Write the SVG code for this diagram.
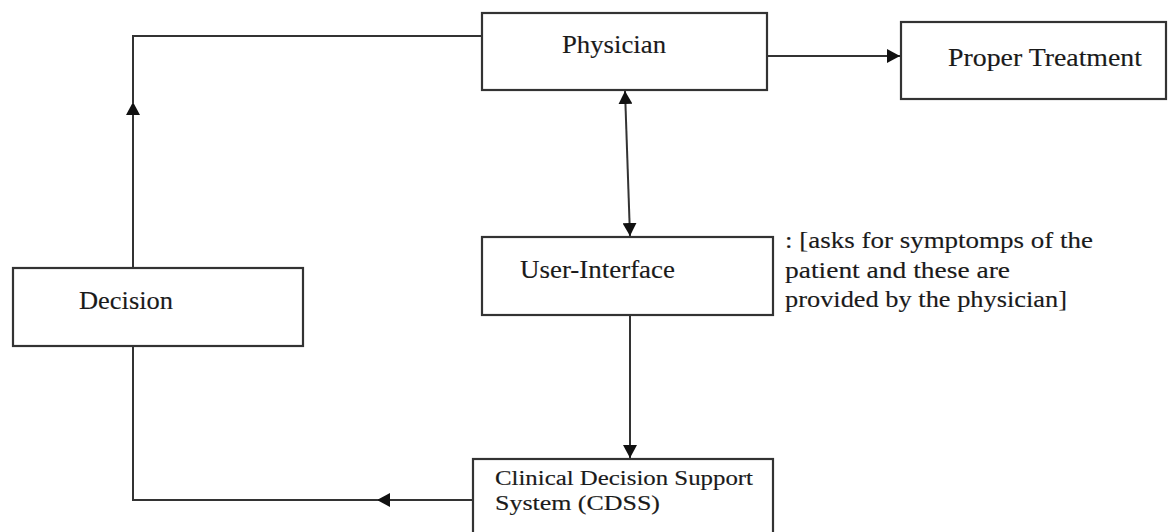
<svg xmlns="http://www.w3.org/2000/svg" width="1168" height="532" viewBox="0 0 1168 532">
<defs>
<style>
.box{fill:#fff;stroke:#333;stroke-width:2.2}
.ln{fill:none;stroke:#333;stroke-width:2}
text{font-family:'Liberation Serif','Times New Roman',Times,serif;fill:#1a1a1a;stroke:#1a1a1a;stroke-width:0.15}
</style>
<marker id="ah" markerUnits="userSpaceOnUse" markerWidth="14" markerHeight="14" refX="13" refY="7" orient="auto-start-reverse" viewBox="0 0 14 14">
<path d="M0,0 L13,7 L0,14 z" fill="#111"/>
</marker>
</defs>
<rect width="1168" height="532" fill="#fff"/>
<g id="connectors">
<path class="ln" d="M768,56 H900" marker-end="url(#ah)"/>
<path class="ln" d="M625,91 L630,236" marker-start="url(#ah)" marker-end="url(#ah)"/>
<path class="ln" d="M630,316 V458" marker-end="url(#ah)"/>
<path class="ln" d="M472,500 H377" marker-end="url(#ah)"/>
<path class="ln" d="M378,500 H133 V347"/>
<path class="ln" d="M133,267 V102" marker-end="url(#ah)"/>
<path class="ln" d="M133,104 V36 H481"/>
</g>
<g id="physician">
<rect class="box" x="482" y="13" width="285" height="77"/>
<text x="562" y="53" font-size="25" textLength="104" lengthAdjust="spacingAndGlyphs">Physician</text>
</g>
<g id="proper-treatment">
<rect class="box" x="901" y="22" width="265" height="77"/>
<text x="948" y="66" font-size="25" textLength="194" lengthAdjust="spacingAndGlyphs">Proper Treatment</text>
</g>
<g id="user-interface">
<rect class="box" x="482" y="237" width="291" height="78"/>
<text x="520" y="278" font-size="25" textLength="155" lengthAdjust="spacingAndGlyphs">User-Interface</text>
</g>
<g id="annotation">
<text x="785" y="248" font-size="24" textLength="308" lengthAdjust="spacingAndGlyphs">: [asks for symptomps of the</text>
<text x="785" y="278" font-size="24" textLength="225" lengthAdjust="spacingAndGlyphs">patient and these are</text>
<text x="785" y="307" font-size="24" textLength="282" lengthAdjust="spacingAndGlyphs">provided by the physician]</text>
</g>
<g id="decision">
<rect class="box" x="13" y="268" width="290" height="78"/>
<text x="79" y="309" font-size="25" textLength="94" lengthAdjust="spacingAndGlyphs">Decision</text>
</g>
<g id="cdss">
<rect class="box" x="473" y="459" width="300" height="80"/>
<text x="495" y="485" font-size="20" textLength="258" lengthAdjust="spacingAndGlyphs">Clinical Decision Support</text>
<text x="495" y="510" font-size="20" textLength="165" lengthAdjust="spacingAndGlyphs">System (CDSS)</text>
</g>
</svg>
